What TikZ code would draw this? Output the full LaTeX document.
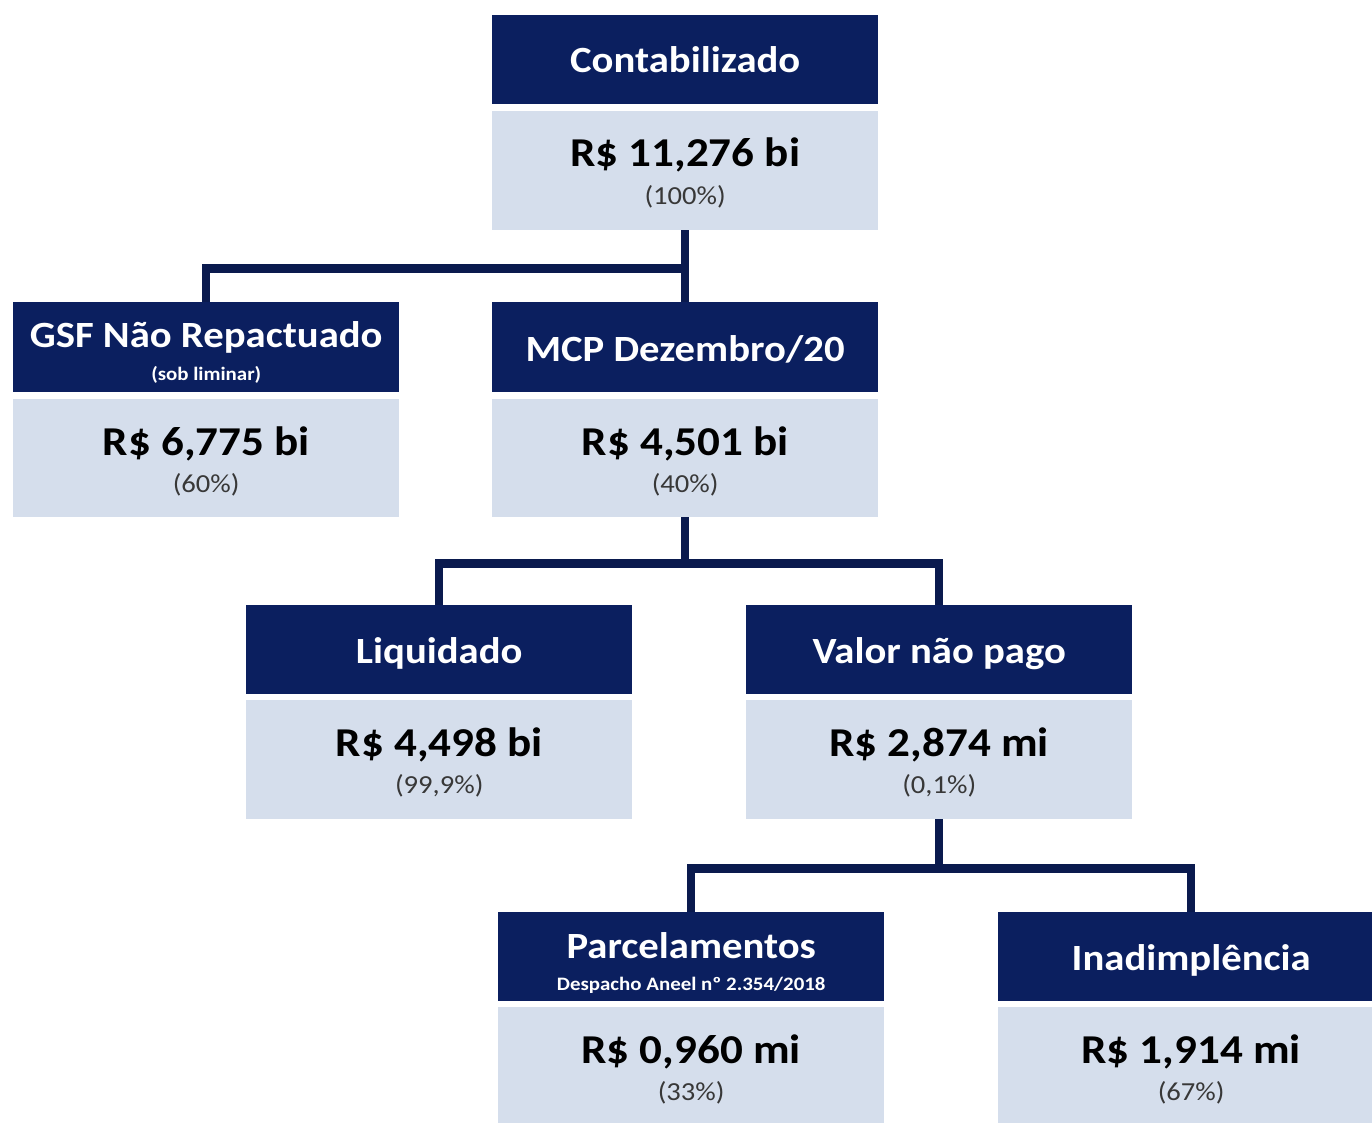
\documentclass[tikz,border=0pt]{standalone}
\usepackage{fontspec}
\setmainfont{Carlito}[FakeStretch=1.1]
\definecolor{navy}{HTML}{0B1F5F}
\definecolor{linenavy}{HTML}{0A1A4E}
\definecolor{pale}{HTML}{D5DEEC}
\tikzset{
  hdr/.style={fill=navy, draw=none, minimum width=386pt, minimum height=89pt, inner sep=0pt, anchor=north west},
  valbox/.style={fill=pale, draw=none, minimum width=386pt, minimum height=119pt, inner sep=0pt, anchor=north west},
  ttl/.style={text=white, font=\fontsize{37}{37}\selectfont\bfseries, anchor=base, inner sep=0pt},
  sub/.style={text=white, font=\fontsize{19}{19}\selectfont\bfseries, anchor=base, inner sep=0pt},
  amount/.style={text=black, font=\fontsize{41}{41}\selectfont\bfseries, anchor=base, inner sep=0pt},
  pct/.style={text=black!78, font=\fontsize{26}{26}\selectfont, anchor=base, inner sep=0pt},
  conn/.style={draw=linenavy, line width=8.5pt}
}
\begin{document}
\begin{tikzpicture}[x=1pt,y=-1pt]
\useasboundingbox (0,0) rectangle (1372,1123);
\clip (0,0) rectangle (1372,1123);
\fill[white] (0,0) rectangle (1372,1123);
% boxes
\node[hdr] (h1) at (492,15) {};
\node[valbox] (v1) at (492,111) {};
\node[hdr, minimum height=90pt] (h2) at (13,302) {};
\node[valbox, minimum height=118pt] (v2) at (13,399) {};
\node[hdr, minimum height=90pt] (h3) at (492,302) {};
\node[valbox, minimum height=118pt] (v3) at (492,399) {};
\node[hdr] (h4) at (246,605) {};
\node[valbox] (v4) at (246,700) {};
\node[hdr] (h5) at (746,605) {};
\node[valbox] (v5) at (746,700) {};
\node[hdr] (h6) at (498,912) {};
\node[valbox] (v6) at (498,1007) {};
\node[hdr] (h7) at (998,912) {};
\node[valbox] (v7) at (998,1007) {};
% titles
\node[ttl] (t1) at ([yshift=-58pt]h1.north) {Contabilizado};
\node[ttl] (t2) at ([yshift=-45pt]h2.north) {GSF Não Repactuado};
\node[sub] (s2) at ([yshift=-78pt]h2.north) {(sob liminar)};
\node[ttl] (t3) at ([yshift=-59pt]h3.north) {MCP Dezembro/20};
\node[ttl] (t4) at ([yshift=-58pt]h4.north) {Liquidado};
\node[ttl] (t5) at ([yshift=-58pt]h5.north) {Valor não pago};
\node[ttl] (t6) at ([yshift=-46pt]h6.north) {Parcelamentos};
\node[sub] (s6) at ([yshift=-78pt]h6.north) {Despacho Aneel nº 2.354/2018};
\node[ttl] (t7) at ([yshift=-58pt]h7.north) {Inadimplência};
% amounts
\node[amount] (a1) at ([yshift=-56pt]v1.north) {R\$ 11,276 bi};
\node[pct] (p1) at ([yshift=-94pt]v1.north) {(100\%)};
\node[amount] (a2) at ([yshift=-56pt]v2.north) {R\$ 6,775 bi};
\node[pct] (p2) at ([yshift=-93pt]v2.north) {(60\%)};
\node[amount] (a3) at ([yshift=-56pt]v3.north) {R\$ 4,501 bi};
\node[pct] (p3) at ([yshift=-93pt]v3.north) {(40\%)};
\node[amount] (a4) at ([yshift=-56pt]v4.north) {R\$ 4,498 bi};
\node[pct] (p4) at ([yshift=-93pt]v4.north) {(99,9\%)};
\node[amount] (a5) at ([yshift=-56pt]v5.north) {R\$ 2,874 mi};
\node[pct] (p5) at ([yshift=-93pt]v5.north) {(0,1\%)};
\node[amount] (a6) at ([yshift=-56pt]v6.north) {R\$ 0,960 mi};
\node[pct] (p6) at ([yshift=-93pt]v6.north) {(33\%)};
\node[amount] (a7) at ([yshift=-56pt]v7.north) {R\$ 1,914 mi};
\node[pct] (p7) at ([yshift=-93pt]v7.north) {(67\%)};
% connectors
\draw[conn] (v1.south) -- (h3.north);
\draw[conn] (v1.south) ++(0,38) -| (h2.north);
\draw[conn] (v3.south) -- ++(0,46) coordinate (m2);
\draw[conn] (h4.north) |- (m2) -| (h5.north);
\draw[conn] (v5.south) -- ++(0,49) coordinate (m3);
\draw[conn] (h6.north) |- (m3) -| (h7.north);
\end{tikzpicture}
\end{document}
